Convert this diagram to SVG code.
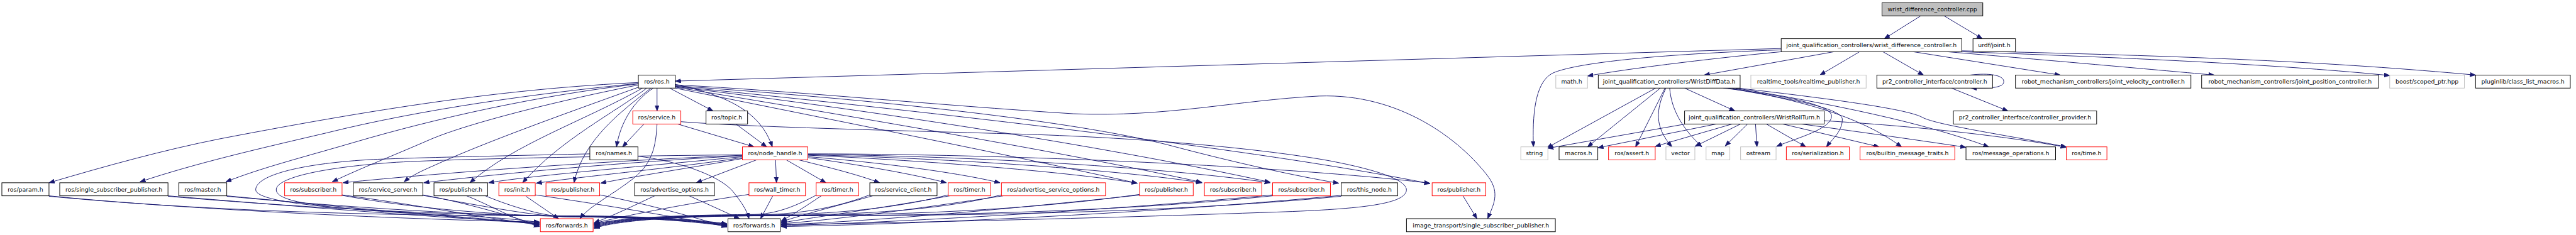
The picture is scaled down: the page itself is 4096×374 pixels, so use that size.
<svg xmlns="http://www.w3.org/2000/svg" width="4096" height="374" viewBox="0 0 4096 374">
<style>
.node rect{fill:#fff;stroke:#000;stroke-width:1.3}
.node.r rect{stroke:#ff0000}
.node.g rect{stroke:#bfbfbf}
.node.root rect{fill:#bfbfbf}
.node text{font-family:"DejaVu Sans","Liberation Sans",sans-serif;font-size:12.6px;text-anchor:middle;fill:#000}
#edges path{fill:none;stroke:#191970;stroke-width:1.3;marker-end:url(#a)}
</style>
<defs>
<marker id="a" markerUnits="userSpaceOnUse" markerWidth="13" markerHeight="10" refX="12" refY="4.5" orient="auto"><path d="M0,0 L12,4.5 L0,9 z" fill="#191970" stroke="#191970" stroke-width="1"/></marker>
</defs>
<rect width="4096" height="374" fill="#fff"/>
<g transform="scale(0.742)">
<g id="edges">
<path d="M4116,34 L4038,83"/>
<path d="M4166,34 L4248,83"/>
<path d="M3817,104 L1447,174"/>
<path d="M3817,107 C3500,118 3360,140 3325,158 C3288,180 3284,250 3286,315"/>
<path d="M3817,111 C3700,122 3500,145 3402,163"/>
<path d="M3930,111 L3652,161"/>
<path d="M3985,111 L3900,161"/>
<path d="M4035,111 L4122,161"/>
<path d="M4100,111 L4415,161"/>
<path d="M4173,111 C4400,130 4600,148 4745,161"/>
<path d="M4204,111 C4600,125 4900,140 5121,162"/>
<path d="M4204,109 C4700,120 5000,133 5305,161"/>
<path d="M4222,161 C4262,156 4294,161 4294,175 C4294,189 4260,190 4224,189"/>
<path d="M4182,189 L4303,238"/>
<path d="M3548,189 L3315,317"/>
<path d="M3558,189 L3402,315"/>
<path d="M3568,189 L3505,315"/>
<path d="M3570,189 C3548,235 3545,272 3583,315"/>
<path d="M3578,189 C3582,240 3610,280 3647,315"/>
<path d="M3610,189 L3718,238"/>
<path d="M3693,189 C3790,200 3928,222 3925,250 C3922,278 3850,296 3807,314"/>
<path d="M3703,189 C3810,208 3948,230 3948,256 C3948,282 3925,300 3914,315"/>
<path d="M3713,189 C3850,215 3980,245 4075,315"/>
<path d="M3720,189 C3920,222 4120,262 4262,315"/>
<path d="M3725,189 C3950,215 4090,235 4120,252 C4150,268 4300,290 4428,315"/>
<path d="M3612,266 L3317,318"/>
<path d="M3678,266 L3424,317"/>
<path d="M3712,266 L3547,314"/>
<path d="M3730,266 L3632,314"/>
<path d="M3745,266 L3697,313"/>
<path d="M3762,266 L3765,315"/>
<path d="M3785,266 L3870,315"/>
<path d="M3820,266 L4027,315"/>
<path d="M3860,266 C4000,285 4120,302 4213,316"/>
<path d="M3909,259 C4100,270 4300,292 4428,316"/>
<path d="M1368,177 C1100,190 850,225 470,298 C350,322 230,355 105,392"/>
<path d="M1368,179 C1150,200 900,235 700,285 C550,320 420,350 300,390"/>
<path d="M1368,180 C1150,205 930,255 760,305 C640,340 560,360 484,390"/>
<path d="M1369,182 C1200,215 1000,265 920,300 C840,335 770,362 712,390"/>
<path d="M1371,186 C1250,230 1050,300 930,355 C900,368 880,378 866,390"/>
<path d="M1377,189 C1250,260 1100,310 1007,392"/>
<path d="M1386,189 C1320,240 1200,300 1120,392"/>
<path d="M1395,189 C1330,240 1250,300 1230,392"/>
<path d="M1400,189 C1360,215 1330,260 1321,315"/>
<path d="M1408,189 L1408,238"/>
<path d="M1435,189 L1528,238"/>
<path d="M1447,181 C1560,205 1630,240 1655,315"/>
<path d="M1447,182 C1700,195 2000,225 2300,244 C2500,252 2650,215 2827,206 C3000,200 3130,300 3190,380 C3215,415 3200,440 3188,469"/>
<path d="M1447,189 C1800,260 2200,340 2437,393"/>
<path d="M1447,187 C1800,245 2300,330 2575,391"/>
<path d="M1447,186 C1900,240 2400,320 2722,391"/>
<path d="M1447,185 C2000,240 2700,320 3064,394"/>
<path d="M1447,184 C1900,215 2300,260 2500,310 C2650,350 2780,378 2869,393"/>
<path d="M1380,266 L1334,315"/>
<path d="M1452,266 L1616,315"/>
<path d="M1459,261 C1600,272 1850,278 2200,288 C2450,296 2700,318 2850,345 C2990,372 3020,395 3013,412 C3002,440 2900,450 2700,456 C2300,470 1900,478 1674,482"/>
<path d="M1408,266 C1405,330 1390,360 1345,392 C1300,425 1260,445 1243,469"/>
<path d="M1577,266 L1643,315"/>
<path d="M1264,330 C1000,336 900,338 800,342 C650,350 548,375 548,407 C548,440 800,452 1000,463 C1080,468 1120,472 1156,477"/>
<path d="M1367,335 C1450,345 1540,375 1570,410 C1590,435 1600,450 1605,469"/>
<path d="M1591,332 C1300,335 1000,340 850,348 C700,358 592,380 592,407 C592,435 700,446 900,459 C1000,466 1100,474 1156,480"/>
<path d="M1591,333 C1300,345 950,370 735,392"/>
<path d="M1591,334 C1300,350 1050,375 908,392"/>
<path d="M1591,336 C1400,355 1150,375 1047,392"/>
<path d="M1591,338 C1450,360 1250,378 1149,393"/>
<path d="M1591,340 C1480,360 1360,378 1287,393"/>
<path d="M1621,343 L1492,392"/>
<path d="M1662,343 L1664,392"/>
<path d="M1685,343 L1770,392"/>
<path d="M1712,343 C1780,360 1840,375 1885,392"/>
<path d="M1731,338 C1850,355 1950,372 2028,392"/>
<path d="M1731,336 C1900,350 2050,370 2143,392"/>
<path d="M1731,333 C2000,345 2300,370 2437,393"/>
<path d="M1731,332 C2050,340 2400,365 2576,392"/>
<path d="M1731,331 C2100,335 2500,360 2722,392"/>
<path d="M1731,330 C2200,330 2800,360 3064,393"/>
<path d="M105,420 C400,450 900,472 1156,476"/>
<path d="M105,421 C500,458 900,463 1215,463 C1400,463 1500,472 1558,480"/>
<path d="M360,420 C600,440 950,468 1156,478"/>
<path d="M360,421 C700,450 1000,462 1215,463 C1400,464 1500,473 1558,481"/>
<path d="M486,420 C700,440 1000,470 1156,480"/>
<path d="M486,421 C800,450 1050,462 1215,464 C1400,465 1500,474 1558,482"/>
<path d="M733,418 C900,440 1050,470 1156,482"/>
<path d="M733,419 C900,450 1100,463 1215,464 C1400,465 1500,475 1558,483"/>
<path d="M906,418 C1000,435 1100,465 1156,484"/>
<path d="M906,419 C1050,445 1150,464 1215,465 C1400,466 1500,476 1558,484"/>
<path d="M1000,420 C1050,440 1100,470 1156,486"/>
<path d="M1040,420 C1100,445 1170,465 1215,465 C1400,466 1500,477 1558,485"/>
<path d="M1127,421 L1197,469"/>
<path d="M1147,418 C1300,440 1450,466 1558,486"/>
<path d="M1285,418 C1400,440 1500,470 1558,487"/>
<path d="M1403,420 C1360,440 1320,460 1273,478"/>
<path d="M1477,420 L1585,469"/>
<path d="M1656,420 L1630,469"/>
<path d="M1605,417 C1450,440 1330,465 1273,479"/>
<path d="M1760,420 C1730,440 1700,460 1674,474"/>
<path d="M1750,418 C1700,445 1660,459 1616,460 C1420,461 1310,470 1273,481"/>
<path d="M1870,420 C1800,440 1720,460 1674,476"/>
<path d="M1864,418 C1780,450 1700,460 1616,461 C1420,462 1310,471 1273,482"/>
<path d="M2035,420 C1900,445 1750,465 1674,478"/>
<path d="M2032,418 C1900,452 1750,461 1616,461 C1420,462 1310,472 1273,484"/>
<path d="M2150,420 C1950,450 1800,470 1674,480"/>
<path d="M2146,418 C2000,455 1800,462 1616,462 C1420,463 1310,473 1273,485"/>
<path d="M2445,418 C2100,455 1850,475 1674,482"/>
<path d="M2442,417 C2150,458 1850,462 1616,462 C1420,463 1310,474 1273,487"/>
<path d="M2727,418 C2400,450 1900,478 1674,484"/>
<path d="M2727,420 C2350,460 1900,463 1616,463 C1420,464 1310,475 1273,488"/>
<path d="M2874,419 C2500,455 2000,480 1674,486"/>
<path d="M2874,421 C2450,462 1950,463 1616,463 C1420,464 1310,476 1273,490"/>
<path d="M3135,420 L3165,469"/>
</g>
<g id="n_root" class="node root"><rect x="4033" y="6" width="216" height="28"/><text x="4141" y="24.5">wrist_difference_controller.cpp</text></g>
<g id="n_wdc" class="node"><rect x="3817" y="83" width="387" height="28"/><text x="4010.5" y="101.5">joint_qualification_controllers/wrist_difference_controller.h</text></g>
<g id="n_urdf" class="node"><rect x="4228" y="83" width="91" height="28"/><text x="4273.5" y="101.5">urdf/joint.h</text></g>
<g id="n_rosh" class="node"><rect x="1368" y="161" width="79" height="28"/><text x="1407.5" y="179.5">ros/ros.h</text></g>
<g id="n_math" class="node g"><rect x="3334" y="161" width="68" height="28"/><text x="3368" y="179.5">math.h</text></g>
<g id="n_wdd" class="node"><rect x="3425" y="161" width="304" height="28"/><text x="3577" y="179.5">joint_qualification_controllers/WristDiffData.h</text></g>
<g id="n_rtp" class="node g"><rect x="3752" y="161" width="247" height="28"/><text x="3875.5" y="179.5">realtime_tools/realtime_publisher.h</text></g>
<g id="n_ctrl" class="node"><rect x="4022" y="161" width="248" height="28"/><text x="4146" y="179.5">pr2_controller_interface/controller.h</text></g>
<g id="n_jvc" class="node"><rect x="4319" y="161" width="376" height="28"/><text x="4507" y="179.5">robot_mechanism_controllers/joint_velocity_controller.h</text></g>
<g id="n_jpc" class="node"><rect x="4718" y="161" width="379" height="28"/><text x="4907.5" y="179.5">robot_mechanism_controllers/joint_position_controller.h</text></g>
<g id="n_boost" class="node g"><rect x="5121" y="161" width="160" height="28"/><text x="5201" y="179.5">boost/scoped_ptr.hpp</text></g>
<g id="n_plug" class="node"><rect x="5305" y="161" width="203" height="28"/><text x="5406.5" y="179.5">pluginlib/class_list_macros.h</text></g>
<g id="n_service" class="node r"><rect x="1356" y="238" width="103" height="28"/><text x="1407.5" y="256.5">ros/service.h</text></g>
<g id="n_topic" class="node"><rect x="1513" y="238" width="89" height="28"/><text x="1557.5" y="256.5">ros/topic.h</text></g>
<g id="n_wrt" class="node"><rect x="3610" y="238" width="299" height="28"/><text x="3759.5" y="256.5">joint_qualification_controllers/WristRollTurn.h</text></g>
<g id="n_prov" class="node"><rect x="4186" y="238" width="307" height="28"/><text x="4339.5" y="256.5">pr2_controller_interface/controller_provider.h</text></g>
<g id="n_names" class="node"><rect x="1264" y="315" width="103" height="28"/><text x="1315.5" y="333.5">ros/names.h</text></g>
<g id="n_nh" class="node r"><rect x="1591" y="315" width="140" height="28"/><text x="1661" y="333.5">ros/node_handle.h</text></g>
<g id="n_string" class="node g"><rect x="3259" y="315" width="58" height="28"/><text x="3288" y="333.5">string</text></g>
<g id="n_macros" class="node"><rect x="3341" y="315" width="83" height="28"/><text x="3382.5" y="333.5">macros.h</text></g>
<g id="n_assert" class="node r"><rect x="3447" y="315" width="100" height="28"/><text x="3497" y="333.5">ros/assert.h</text></g>
<g id="n_vector" class="node g"><rect x="3570" y="315" width="62" height="28"/><text x="3601" y="333.5">vector</text></g>
<g id="n_map" class="node g"><rect x="3656" y="315" width="51" height="28"/><text x="3681.5" y="333.5">map</text></g>
<g id="n_ostream" class="node g"><rect x="3730" y="315" width="76" height="28"/><text x="3768" y="333.5">ostream</text></g>
<g id="n_serial" class="node r"><rect x="3828" y="315" width="135" height="28"/><text x="3895.5" y="333.5">ros/serialization.h</text></g>
<g id="n_builtin" class="node r"><rect x="3986" y="315" width="203" height="28"/><text x="4087.5" y="333.5">ros/builtin_message_traits.h</text></g>
<g id="n_msgops" class="node"><rect x="4213" y="315" width="192" height="28"/><text x="4309" y="333.5">ros/message_operations.h</text></g>
<g id="n_time" class="node r"><rect x="4428" y="315" width="87" height="28"/><text x="4471.5" y="333.5">ros/time.h</text></g>
<g id="n_param" class="node"><rect x="4" y="392" width="101" height="28"/><text x="54.5" y="410.5">ros/param.h</text></g>
<g id="n_ssp" class="node"><rect x="128" y="392" width="232" height="28"/><text x="244" y="410.5">ros/single_subscriber_publisher.h</text></g>
<g id="n_master" class="node"><rect x="383" y="392" width="103" height="28"/><text x="434.5" y="410.5">ros/master.h</text></g>
<g id="n_sub1" class="node r"><rect x="610" y="392" width="123" height="28"/><text x="671.5" y="410.5">ros/subscriber.h</text></g>
<g id="n_ss" class="node"><rect x="757" y="392" width="149" height="28"/><text x="831.5" y="410.5">ros/service_server.h</text></g>
<g id="n_pub1" class="node"><rect x="930" y="392" width="115" height="28"/><text x="987.5" y="410.5">ros/publisher.h</text></g>
<g id="n_init" class="node r"><rect x="1069" y="392" width="78" height="28"/><text x="1108" y="410.5">ros/init.h</text></g>
<g id="n_pub2" class="node r"><rect x="1170" y="392" width="115" height="28"/><text x="1227.5" y="410.5">ros/publisher.h</text></g>
<g id="n_advo" class="node"><rect x="1360" y="392" width="171" height="28"/><text x="1445.5" y="410.5">ros/advertise_options.h</text></g>
<g id="n_wt" class="node r"><rect x="1605" y="392" width="121" height="28"/><text x="1665.5" y="410.5">ros/wall_timer.h</text></g>
<g id="n_timer1" class="node r"><rect x="1749" y="392" width="91" height="28"/><text x="1794.5" y="410.5">ros/timer.h</text></g>
<g id="n_sc" class="node"><rect x="1864" y="392" width="144" height="28"/><text x="1936" y="410.5">ros/service_client.h</text></g>
<g id="n_timer2" class="node r"><rect x="2032" y="392" width="91" height="28"/><text x="2077.5" y="410.5">ros/timer.h</text></g>
<g id="n_aso" class="node r"><rect x="2146" y="392" width="223" height="28"/><text x="2257.5" y="410.5">ros/advertise_service_options.h</text></g>
<g id="n_pub3" class="node r"><rect x="2442" y="392" width="115" height="28"/><text x="2499.5" y="410.5">ros/publisher.h</text></g>
<g id="n_sub2" class="node r"><rect x="2581" y="392" width="123" height="28"/><text x="2642.5" y="410.5">ros/subscriber.h</text></g>
<g id="n_sub3" class="node r"><rect x="2727" y="392" width="124" height="28"/><text x="2789" y="410.5">ros/subscriber.h</text></g>
<g id="n_tn" class="node"><rect x="2874" y="392" width="121" height="28"/><text x="2934.5" y="410.5">ros/this_node.h</text></g>
<g id="n_pub4" class="node r"><rect x="3069" y="392" width="115" height="28"/><text x="3126.5" y="410.5">ros/publisher.h</text></g>
<g id="n_fwd1" class="node r"><rect x="1158" y="469" width="113" height="28"/><text x="1214.5" y="487.5">ros/forwards.h</text></g>
<g id="n_fwd2" class="node"><rect x="1560" y="469" width="112" height="28"/><text x="1616" y="487.5">ros/forwards.h</text></g>
<g id="n_it" class="node"><rect x="3014" y="469" width="319" height="28"/><text x="3173.5" y="487.5">image_transport/single_subscriber_publisher.h</text></g>
</g>
</svg>
